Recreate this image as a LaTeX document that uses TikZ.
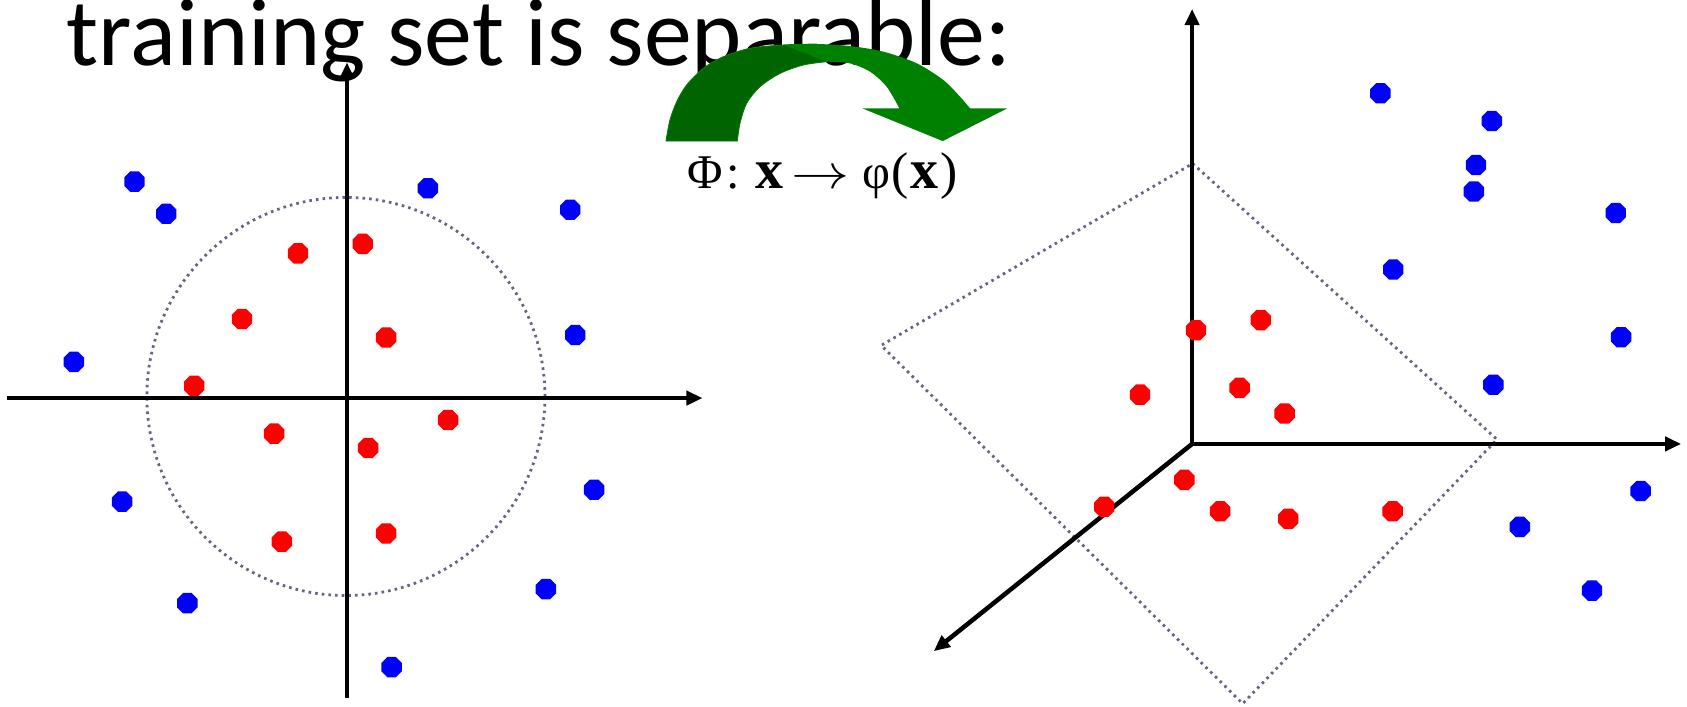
\RequirePackage{fix-cm}
\documentclass[tikz,border=0pt]{standalone}
\usepackage{fontspec}
\setmainfont{Liberation Serif}
\newfontfamily\titlefont{Carlito}
\usetikzlibrary{arrows.meta,shapes.geometric}
\definecolor{dotblue}{RGB}{0,0,255}
\definecolor{dotred}{RGB}{255,0,0}
\definecolor{sepgray}{RGB}{98,102,128}
\definecolor{arrdark}{RGB}{0,100,0}
\definecolor{arrlight}{RGB}{0,128,0}
\begin{document}
\begin{tikzpicture}[x=1pt,y=-1pt,
  axis/.style={line width=4.2pt, -{Triangle[length=15pt,width=13pt]}},
  sepline/.style={sepgray, line width=2.6pt, dash pattern=on 2.4pt off 3.8pt},
  pt/.style={regular polygon, regular polygon sides=8, minimum size=20.5pt, inner sep=0pt, draw=none},
  bpt/.style={pt, fill=dotblue},
  rpt/.style={pt, fill=dotred}]
\useasboundingbox (0,0) rectangle (1568,657);

% title
\node[anchor=base west, inner sep=0pt, font=\titlefont\fontsize{89}{100}\selectfont] (title) at (62,61) {training set is separable:};

% ---------- left panel ----------
\coordinate (O1) at (322.5,370);
\coordinate (xL) at (6.5,370);
\coordinate (xR) at (653,370);
\coordinate (yB) at (322.5,649);
\coordinate (yT) at (322.5,58);
\draw[sepline] (321.5,368.5) circle[radius=185pt];
\draw[axis] (xL) -- (xR);
\draw[axis] (yB) -- (yT);

\node[bpt] (b1) at (125,168.8) {};
\node[bpt] (b2) at (154.5,198.7) {};
\node[bpt] (b3) at (68.7,336.3) {};
\node[bpt] (b4) at (397.7,175) {};
\node[bpt] (b5) at (530,194.9) {};
\node[bpt] (b6) at (534.7,311.4) {};
\node[bpt] (b7) at (113.5,466.2) {};
\node[bpt] (b8) at (552.2,455.2) {};
\node[bpt] (b9) at (174.1,560.6) {};
\node[bpt] (b10) at (507.4,547.5) {};
\node[bpt] (b11) at (364,620) {};

\node[rpt] (r1) at (277,235.5) {};
\node[rpt] (r2) at (337.1,226.7) {};
\node[rpt] (r3) at (224.9,296.5) {};
\node[rpt] (r4) at (358.9,313.7) {};
\node[rpt] (r5) at (180.5,358.6) {};
\node[rpt] (r6) at (254.8,403) {};
\node[rpt] (r7) at (342.2,416.4) {};
\node[rpt] (r8) at (416.5,390.4) {};
\node[rpt] (r9) at (262,503.4) {};
\node[rpt] (r10) at (358.9,495.8) {};

% ---------- mapping arrow ----------
\fill[arrdark, draw=arrlight, line width=0.8pt]
  plot[smooth] coordinates {(619,131.1) (622.7,111.5) (629,94.5) (638.2,79) (653.7,63.5) (672.3,52.7) (697.1,44.9) (728.1,41.8) (759.1,40.9)}
  -- plot[smooth] coordinates {(768.3,57.3) (746.7,60.4) (725,68.2) (706.4,80.6) (694,96) (687.8,114.6) (685.3,131.1)}
  -- cycle;
\fill[arrlight]
  plot[smooth] coordinates {(728.1,41.8) (759.1,40.9) (790,42.8) (821,48) (852,58.8) (876.8,74.4) (892.3,89.9) (901.6,100.7)}
  -- (936.3,100.7) -- (876.2,131.1) -- (801.5,100.7)
  -- plot[smooth] coordinates {(835.9,100.7) (824.1,80.6) (808.6,66.6) (790,58.9) (768.3,57.3)}
  .. controls (750,50) .. (728.1,41.8) -- cycle;

\node[anchor=base west, inner sep=0pt, font=\fontsize{45}{50}\selectfont] (map) at (639,175)
  {Φ\hspace{3pt}:\hspace{15pt}\textbf{\fontsize{52}{56}\selectfont x}\hspace{7pt}\scalebox{1.2}[1]{$\rightarrow$}\hspace{12pt}φ\hspace{1pt}{\fontsize{48}{52}\selectfont(\hspace{1.5pt}\textbf{\fontsize{52}{56}\selectfont x}\hspace{2.5pt})}};

% ---------- right panel ----------
\coordinate (O2) at (1108,412.6);
\coordinate (zT) at (1108,8.3);
\coordinate (xT) at (1562.6,412.6);
\coordinate (dT) at (867.9,605.2);
\coordinate (qT) at (1108.5,152);
\coordinate (qR) at (1391.4,408.5);
\coordinate (qB) at (1155,654);
\coordinate (qL) at (819,321);
\draw[sepline] (qT) -- (qR) -- (qB) -- (qL) -- cycle;
\draw[axis] (O2) -- (zT);
\draw[axis] (O2) -- (xT);
\draw[axis] (O2) -- (dT);

\node[bpt] (c1) at (1283,86.7) {};
\node[bpt] (c2) at (1386.6,112.5) {};
\node[bpt] (c3) at (1371.9,153.4) {};
\node[bpt] (c4) at (1369.9,178) {};
\node[bpt] (c5) at (1501.8,198) {};
\node[bpt] (c6) at (1295,250.5) {};
\node[bpt] (c7) at (1506.7,313.4) {};
\node[bpt] (c8) at (1388,357.6) {};
\node[bpt] (c9) at (1524.9,456.4) {};
\node[bpt] (c10) at (1412.6,489.7) {};
\node[bpt] (c11) at (1479.7,548.9) {};

\node[rpt] (s1) at (1111.6,307) {};
\node[rpt] (s2) at (1171.8,297.5) {};
\node[rpt] (s3) at (1059.6,366.8) {};
\node[rpt] (s4) at (1152.2,360.5) {};
\node[rpt] (s5) at (1194,384.3) {};
\node[rpt] (s6) at (1100.8,446) {};
\node[rpt] (s7) at (1026.3,471) {};
\node[rpt] (s8) at (1134.1,475.2) {};
\node[rpt] (s9) at (1197.4,482.2) {};
\node[rpt] (s10) at (1294.4,475.2) {};
\end{tikzpicture}
\end{document}
